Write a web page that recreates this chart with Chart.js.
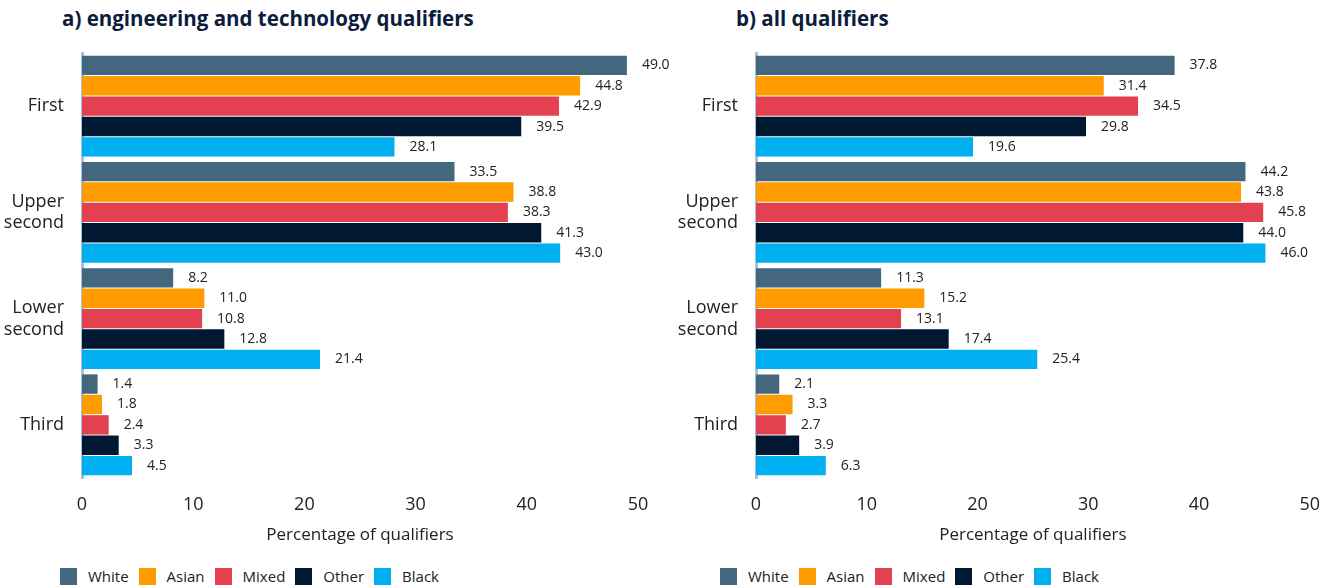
<!DOCTYPE html>
<html>
<head>
<meta charset="utf-8">
<script src="https://cdn.jsdelivr.net/npm/chart.js@4.4.1/dist/chart.umd.min.js"></script>
<style>
  body { margin: 0; background: #fff; font-family: "Open Sans", sans-serif; }
  #wrap { position: relative; width: 1336px; height: 588px; }
  .title { position: absolute; top: 4px; font: bold 20.5px "Open Sans", sans-serif; color: #0c1c3c; }
  .box { position: absolute; top: 0; }
  .legend { position: absolute; top: 566px; display: flex; font: 15px "Open Sans", sans-serif; color: #222; }
  .legend span.sw { display: inline-block; width: 17px; height: 17px; margin-right: 11px; }
  .legend div { display: flex; align-items: center; margin-right: 10px; }
</style>
</head>
<body>
<div id="wrap">
  <div class="title" style="left:62px">a) engineering and technology qualifiers</div>
  <div class="title" style="left:736px">b) all qualifiers</div>
  <div class="box" style="left:0px"><canvas id="chartA" width="670" height="552"></canvas></div>
  <div class="box" style="left:674px"><canvas id="chartB" width="662" height="552"></canvas></div>
  <div class="legend" id="legA" style="left:60px"></div>
  <div class="legend" id="legB" style="left:720px"></div>
</div>
<script>
const categories = ["First", ["Upper", "second"], ["Lower", "second"], "Third"];
const groups = ["White", "Asian", "Mixed", "Other", "Black"];
const colors = ["#43677f", "#ff9d00", "#e34150", "#011833", "#00afef"];
const xTicks = [0, 10, 20, 30, 40, 50];

// engineering and technology qualifiers, % by degree class
const engWhite = [49.0, 33.5, 8.2, 1.4];
const engAsian = [44.8, 38.8, 11.0, 1.8];
const engMixed = [42.9, 38.3, 10.8, 2.4];
const engOther = [39.5, 41.3, 12.8, 3.3];
const engBlack = [28.1, 43.0, 21.4, 4.5];

// all qualifiers
const allWhite = [37.8, 44.2, 11.3, 2.1];
const allAsian = [31.4, 43.8, 15.2, 3.3];
const allMixed = [34.5, 45.8, 13.1, 2.7];
const allOther = [29.8, 44.0, 17.4, 3.9];
const allBlack = [19.6, 46.0, 25.4, 6.3];

const barLabels = {
  id: "barLabels",
  afterDatasetsDraw(chart) {
    const ctx = chart.ctx;
    ctx.save();
    ctx.font = "14px 'Open Sans', sans-serif";
    ctx.fillStyle = "#222";
    ctx.textAlign = "left";
    ctx.textBaseline = "middle";
    chart.data.datasets.forEach((ds, i) => {
      chart.getDatasetMeta(i).data.forEach((bar, j) => {
        ctx.fillText(ds.data[j].toFixed(1), bar.x + 15, bar.y);
      });
    });
    ctx.restore();
  },
};

function makeChart(id, series, rightPad) {
  return new Chart(document.getElementById(id), {
    type: "bar",
    data: {
      labels: categories,
      datasets: series.map((d, i) => ({
        label: groups[i],
        data: d,
        backgroundColor: colors[i],
        borderWidth: 0,
        barPercentage: 0.95,
        categoryPercentage: 0.96,
      })),
    },
    options: {
      indexAxis: "y",
      responsive: false,
      animation: false,
      layout: { padding: { top: 53, right: rightPad, bottom: 7, left: 0 } },
      plugins: { legend: { display: false }, tooltip: { enabled: false } },
      scales: {
        x: {
          min: 0,
          max: 50,
          afterBuildTicks: (ax) => { ax.ticks = xTicks.map((v) => ({ value: v })); },
          grid: { display: false, drawTicks: false },
          border: { display: false },
          ticks: { padding: 16, color: "#222", font: { size: 18, family: "'Open Sans', sans-serif" } },
          title: {
            display: true,
            text: "Percentage of qualifiers",
            color: "#222",
            padding: { top: -7, bottom: 0 },
            font: { size: 17, family: "'Open Sans', sans-serif" },
          },
        },
        y: {
          afterFit: (ax) => { ax.width = 82; },
          grid: { display: false, drawTicks: false },
          border: { display: true, color: "#a8c0d4", width: 3 },
          ticks: { crossAlign: "near", padding: 18, color: "#222", font: { size: 18, family: "'Open Sans', sans-serif" } },
        },
      },
    },
    plugins: [barLabels],
  });
}

makeChart("chartA", [engWhite, engAsian, engMixed, engOther, engBlack], 32);
makeChart("chartB", [allWhite, allAsian, allMixed, allOther, allBlack], 24);

["legA", "legB"].forEach((id) => {
  const el = document.getElementById(id);
  groups.forEach((g, i) => {
    const item = document.createElement("div");
    item.innerHTML = '<span class="sw" style="background:' + colors[i] + '"></span>' + g;
    el.appendChild(item);
  });
});
</script>
</body>
</html>
